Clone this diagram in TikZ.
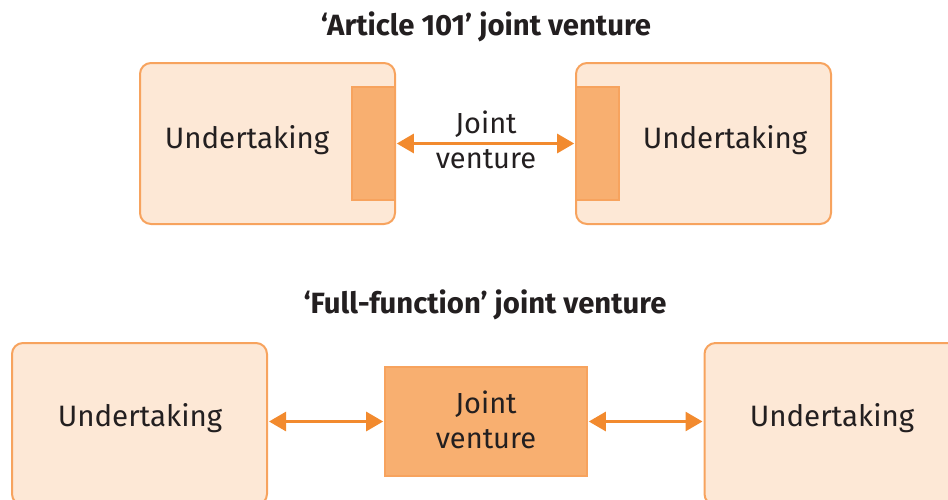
\documentclass[tikz,border=0pt]{standalone}
\usepackage{fontspec}
\setmainfont{Fira Sans}
\usetikzlibrary{arrows.meta}
\definecolor{boxfill}{HTML}{FDE8D6}
\definecolor{boxline}{HTML}{F7A35E}
\definecolor{jvfill}{HTML}{F8AF70}
\definecolor{arrowc}{HTML}{F28A2E}
\definecolor{textc}{HTML}{231F20}
\tikzset{
  undertaking/.style={draw=boxline, fill=boxfill, line width=2pt, rounded corners=11pt,
    inner sep=0pt, minimum width=255pt, minimum height=161pt},
  jvpart/.style={draw=boxline, fill=jvfill, line width=1.6pt, inner sep=0pt},
  label/.style={text=textc, font=\fontsize{29.5}{34}\selectfont, align=center, inner sep=0pt},
  jvlabel/.style={label, font=\fontsize{29}{35}\selectfont},
  heading/.style={text=textc, font=\fontsize{29.3}{34}\selectfont\bfseries, inner sep=0pt},
  link/.style={draw=arrowc, line width=2.8pt, {Triangle[length=17pt,width=19pt]}-{Triangle[length=17pt,width=19pt]}, shorten <=1pt, shorten >=1pt}
}
\begin{document}
\begin{tikzpicture}[x=1pt, y=-1pt]
\useasboundingbox (0,0) rectangle (948,499);
\clip (0,0) rectangle (948,499);

% Article 101 joint venture
\node[heading] (t1) at (486,27) {‘Article 101’ joint venture};
\node[undertaking] (ua) at (267.5,143.5) {};
\node[undertaking] (ub) at (703.5,143.5) {};
\node[jvpart, minimum width=43pt, minimum height=113pt] (ja) at (373.5,143.5) {};
\node[jvpart, minimum width=43pt, minimum height=113pt] (jb) at (597.5,143.5) {};
\node[label] (la) at (247,140) {Undertaking};
\node[label] (lb) at (725,140) {Undertaking};
\draw[link] (ja.east) -- (jb.west);
\node[jvlabel] (jl) at (486,140) {Joint\\venture};

% Full-function joint venture
\node[heading] (t2) at (485,305) {‘Full-function’ joint venture};
\node[undertaking, minimum height=162pt] (uc) at (139.5,424) {};
\node[undertaking, minimum height=162pt] (ud) at (832,424) {};
\node[jvpart, minimum width=202pt, minimum height=109pt] (jv) at (486,421.5) {};
\node[label] (lc) at (140,418) {Undertaking};
\node[label] (ld) at (832,418) {Undertaking};
\node[jvlabel] (jvl) at (486,420) {Joint\\venture};
\draw[link] (jv.west -| uc.east) -- (jv.west);
\draw[link] (jv.east) -- (jv.east -| ud.west);
\end{tikzpicture}
\end{document}
